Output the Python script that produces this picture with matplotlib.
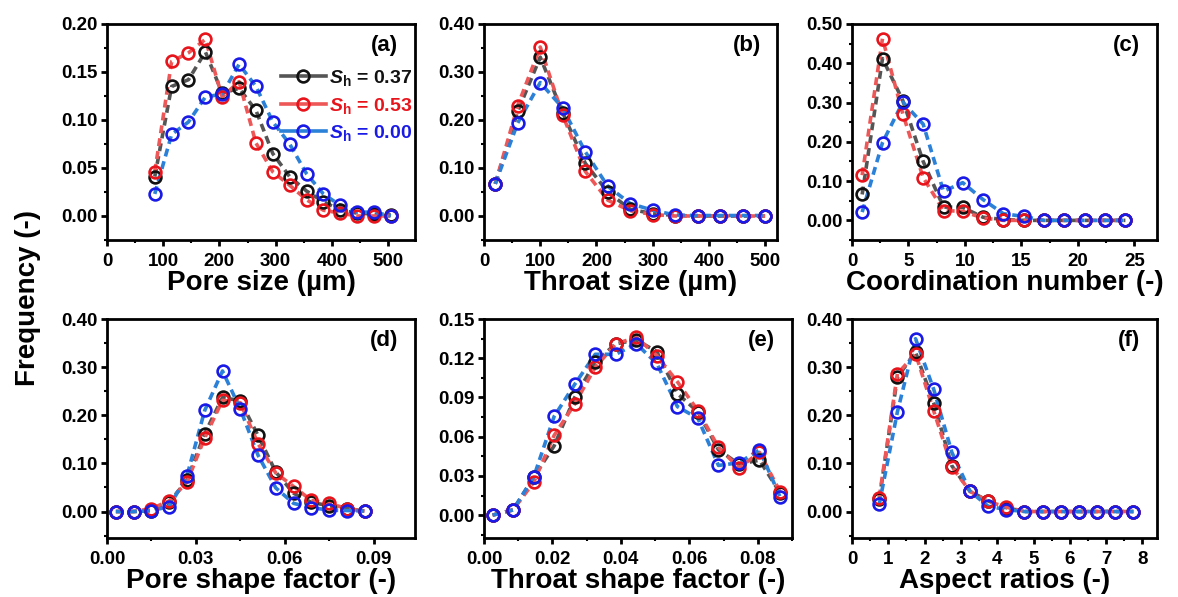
import matplotlib
matplotlib.use("Agg")
import matplotlib.pyplot as plt
from matplotlib.lines import Line2D
from matplotlib.ticker import MultipleLocator, FormatStrFormatter

plt.rcParams["font.family"] = ["Liberation Sans", "DejaVu Sans"]
plt.rcParams["font.weight"] = "bold"
plt.rcParams["mathtext.fontset"] = "custom"
plt.rcParams["mathtext.rm"] = "Liberation Sans:bold"
plt.rcParams["mathtext.bf"] = "Liberation Sans:bold"
plt.rcParams["mathtext.it"] = "Liberation Sans:bold:italic"

series_labels = [r"$S_\mathrm{h}$ = 0.37", r"$S_\mathrm{h}$ = 0.53", r"$S_\mathrm{h}$ = 0.00"]

# (a) pore size
pore_x = [85, 115, 145, 175, 205, 235, 265, 295, 325, 355, 385, 415, 445, 475, 505]
pore_037 = [0.041, 0.135, 0.142, 0.171, 0.128, 0.133, 0.110, 0.065, 0.041, 0.026, 0.015, 0.006, 0.003, 0.002, 0.001]
pore_053 = [0.046, 0.161, 0.170, 0.184, 0.124, 0.140, 0.076, 0.046, 0.032, 0.017, 0.006, 0.003, 0.000, 0.000, 0.000]
pore_000 = [0.023, 0.085, 0.098, 0.124, 0.127, 0.158, 0.135, 0.098, 0.075, 0.044, 0.023, 0.011, 0.004, 0.004, 0.000]

# (b) throat size
throat_x = [20, 60, 100, 140, 180, 220, 260, 300, 340, 380, 420, 460, 500]
throat_037 = [0.067, 0.218, 0.331, 0.215, 0.110, 0.050, 0.014, 0.005, 0.001, 0.000, 0.000, 0.000, 0.000]
throat_053 = [0.067, 0.230, 0.352, 0.210, 0.093, 0.033, 0.011, 0.003, 0.000, 0.000, 0.000, 0.000, 0.000]
throat_000 = [0.067, 0.194, 0.278, 0.225, 0.134, 0.062, 0.026, 0.012, 0.002, 0.001, 0.001, 0.001, 0.001]

# (c) coordination number
coord_x = [0.9, 2.7, 4.5, 6.3, 8.1, 9.8, 11.6, 13.4, 15.2, 17.0, 18.8, 20.6, 22.4, 24.2]
coord_037 = [0.066, 0.412, 0.305, 0.150, 0.034, 0.033, 0.008, 0.002, 0.000, 0.000, 0.000, 0.000, 0.000, 0.000]
coord_053 = [0.115, 0.463, 0.271, 0.109, 0.025, 0.023, 0.006, 0.000, 0.000, 0.000, 0.000, 0.000, 0.000, 0.000]
coord_000 = [0.021, 0.198, 0.301, 0.245, 0.074, 0.096, 0.053, 0.017, 0.010, 0.000, 0.000, 0.000, 0.000, 0.000]

# (d) pore shape factor
psf_x = [0.003, 0.009, 0.015, 0.021, 0.027, 0.033, 0.039, 0.045, 0.051, 0.057, 0.063, 0.069, 0.075, 0.081, 0.087]
psf_037 = [0.000, 0.000, 0.002, 0.019, 0.065, 0.162, 0.237, 0.230, 0.158, 0.082, 0.038, 0.019, 0.012, 0.006, 0.001]
psf_053 = [0.000, 0.000, 0.006, 0.022, 0.061, 0.153, 0.231, 0.226, 0.141, 0.080, 0.052, 0.023, 0.017, 0.006, 0.001]
psf_000 = [0.000, 0.000, 0.002, 0.010, 0.074, 0.210, 0.292, 0.213, 0.117, 0.049, 0.017, 0.008, 0.003, 0.002, 0.001]

# (e) throat shape factor
tsf_x = [0.0025, 0.0085, 0.0145, 0.0205, 0.0265, 0.0325, 0.0385, 0.0445, 0.0505, 0.0565, 0.0625, 0.0685, 0.0745, 0.0805, 0.0865]
tsf_037 = [0.000, 0.004, 0.029, 0.053, 0.090, 0.117, 0.131, 0.134, 0.125, 0.093, 0.079, 0.050, 0.039, 0.042, 0.017]
tsf_053 = [0.000, 0.004, 0.025, 0.061, 0.085, 0.113, 0.131, 0.136, 0.122, 0.102, 0.080, 0.052, 0.036, 0.048, 0.018]
tsf_000 = [0.000, 0.004, 0.029, 0.0755, 0.100, 0.123, 0.123, 0.131, 0.116, 0.083, 0.074, 0.038, 0.040, 0.050, 0.014]

# (f) aspect ratios
ar_x = [0.75, 1.25, 1.75, 2.25, 2.75, 3.25, 3.75, 4.25, 4.75, 5.25, 5.75, 6.25, 6.75, 7.25, 7.75]
ar_037 = [0.025, 0.279, 0.331, 0.226, 0.095, 0.042, 0.022, 0.008, 0.000, 0.000, 0.000, 0.000, 0.000, 0.000, 0.000]
ar_053 = [0.029, 0.286, 0.328, 0.209, 0.093, 0.042, 0.021, 0.009, 0.000, 0.000, 0.000, 0.000, 0.000, 0.000, 0.000]
ar_000 = [0.015, 0.207, 0.359, 0.254, 0.123, 0.042, 0.011, 0.004, 0.000, 0.000, 0.000, 0.000, 0.000, 0.000, 0.000]

marker_colors = ["#111111", "#e8141c", "#1a1ae6"]
line_colors = ["#555555", "#ee5757", "#2b80d8"]

W, H = 1178, 597
fig = plt.figure(figsize=(W / 100, H / 100), dpi=100)


def box(l, t, r, b):
    return [l / W, 1 - b / H, (r - l) / W, (b - t) / H]


panels = [
    dict(pos=box(107, 24, 415, 240), x=pore_x, ys=[pore_037, pore_053, pore_000],
         xlim=(0, 548), ylim=(-0.025, 0.20), xmaj=100, xmin=50, ymaj=0.05, ymin=0.025,
         xfmt="%d", xlabel="Pore size (µm)", tag="(a)"),
    dict(pos=box(484, 24, 777, 240), x=throat_x, ys=[throat_037, throat_053, throat_000],
         xlim=(0, 521), ylim=(-0.05, 0.40), xmaj=100, xmin=50, ymaj=0.10, ymin=0.05,
         xfmt="%d", xlabel="Throat size (µm)", tag="(b)"),
    dict(pos=box(852, 24, 1157, 240), x=coord_x, ys=[coord_037, coord_053, coord_000],
         xlim=(0, 27), ylim=(-0.05, 0.50), xmaj=5, xmin=2.5, ymaj=0.10, ymin=0.05,
         xfmt="%d", xlabel="Coordination number (-)", tag="(c)"),
    dict(pos=box(107, 319, 415, 538), x=psf_x, ys=[psf_037, psf_053, psf_000],
         xlim=(0, 0.104), ylim=(-0.055, 0.40), xmaj=0.03, xmin=0.015, ymaj=0.10, ymin=0.05,
         xfmt="%.2f", xlabel="Pore shape factor (-)", tag="(d)"),
    dict(pos=box(484, 319, 792, 538), x=tsf_x, ys=[tsf_037, tsf_053, tsf_000],
         xlim=(0, 0.09), ylim=(-0.0175, 0.15), xmaj=0.02, xmin=0.01, ymaj=0.03, ymin=0.015,
         xfmt="%.2f", xlabel="Throat shape factor (-)", tag="(e)"),
    dict(pos=box(852, 319, 1157, 538), x=ar_x, ys=[ar_037, ar_053, ar_000],
         xlim=(0, 8.4), ylim=(-0.055, 0.40), xmaj=1, xmin=0.5, ymaj=0.10, ymin=0.05,
         xfmt="%d", xlabel="Aspect ratios (-)", tag="(f)"),
]

for i, p in enumerate(panels):
    ax = fig.add_axes(p["pos"])
    for ys, mc, lc in zip(p["ys"], marker_colors, line_colors):
        ax.plot(p["x"], ys, color=lc, lw=2.6, dashes=(2.2, 1.4), zorder=2)
        ax.plot(p["x"], ys, ls="none", marker="o", ms=8.5, mfc="none", mec=mc, mew=1.9, zorder=3)
    ax.set_xlim(*p["xlim"])
    ax.set_ylim(*p["ylim"])
    ax.xaxis.set_major_locator(MultipleLocator(p["xmaj"]))
    ax.xaxis.set_minor_locator(MultipleLocator(p["xmin"]))
    ax.yaxis.set_major_locator(MultipleLocator(p["ymaj"]))
    ax.yaxis.set_minor_locator(MultipleLocator(p["ymin"]))
    ax.xaxis.set_major_formatter(FormatStrFormatter(p["xfmt"]))
    ax.yaxis.set_major_formatter(FormatStrFormatter("%.2f"))
    for s in ax.spines.values():
        s.set_linewidth(2.0)
    ax.tick_params(which="major", length=4, width=2, labelsize=13.5, pad=3)
    ax.tick_params(axis="x", which="major", pad=5)
    ax.tick_params(which="minor", length=2.5, width=1.5)
    ax.set_xlabel(p["xlabel"], fontsize=20, fontweight="bold", labelpad=0)
    ax.text(0.945, 0.95, p["tag"], transform=ax.transAxes, ha="right", va="top",
            fontsize=16, fontweight="bold")
    if i == 0:
        handles = [Line2D([], [], color=lc, lw=2.6, marker="o", ms=8.5, mfc="none", mec=mc, mew=1.9)
                   for mc, lc in zip(marker_colors, line_colors)]
        ax.legend(handles, series_labels, loc="upper left", bbox_to_anchor=(0.565, 0.795),
                  frameon=False, handlelength=2.3, handletextpad=0.15,
                  labelspacing=0.38, borderpad=0, borderaxespad=0,
                  labelcolor=marker_colors, prop={"weight": "bold", "size": 14})

fig.text(0.024, 0.5, "Frequency (-)", rotation=90, ha="center", va="center",
         fontsize=20, fontweight="bold")

fig.savefig("out.png", dpi=100)
